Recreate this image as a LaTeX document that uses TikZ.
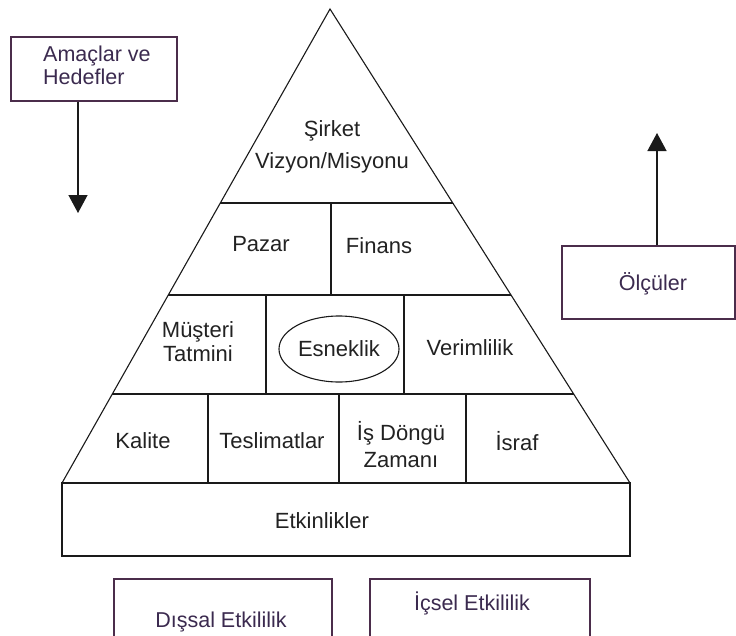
\documentclass[tikz,border=0pt]{standalone}
\usepackage{fontspec}
\setmainfont{Liberation Sans}
\usetikzlibrary{arrows.meta,calc,shapes.geometric}

\definecolor{inkline}{HTML}{1A1A1A}
\definecolor{boxline}{HTML}{4B2D4B}
\definecolor{boxtext}{HTML}{3B2A4F}
\definecolor{celltext}{HTML}{222222}

\tikzset{
  pyr/.style={draw=inkline, line width=1.1pt},
  basebar/.style={draw=inkline, line width=2.2pt},
  cell/.style={text=celltext, align=center, inner sep=0pt,
    font=\fontsize{22}{24}\selectfont},
  sidebox/.style={draw=boxline, line width=1.2pt, fill=white},
  sidetext/.style={text=boxtext, inner sep=0pt,
    font=\fontsize{21.5}{23}\selectfont},
  flow/.style={draw=inkline, line width=1.3pt,
    -{Triangle[length=18pt, width=19pt]}},
}

\begin{document}
\begin{tikzpicture}[x=1pt, y=-1pt]
\useasboundingbox (0,0) rectangle (736,635);
\clip (0,0) rectangle (736,635);
\fill[white] (0,0) rectangle (736,635);

% pyramid outline
\coordinate (apex) at (330,9);
\coordinate (bl) at (62,483);
\coordinate (br) at (630,483);
\draw[pyr] (bl) -- (apex) -- (br);

% tier lines, ends on the two slopes
\foreach \yy/\nm in {203/a, 295/b, 394/c}{
  \coordinate (l\nm) at ($(apex)!{(\yy-9)/474}!(bl)$);
  \coordinate (r\nm) at ($(apex)!{(\yy-9)/474}!(br)$);
  \draw[pyr] (l\nm) -- (r\nm);
}

% cell dividers
\draw[pyr] (331,203) -- (331,295);
\draw[pyr] (266,295) -- (266,394);
\draw[pyr] (404,295) -- (404,394);
\draw[pyr] (208,394) -- (208,483);
\draw[pyr] (339,394) -- (339,483);
\draw[pyr] (466,394) -- (466,483);

% activities bar
\draw[pyr] (62,483) rectangle (630,556);
\draw[basebar] (bl) -- (br);

% cell labels
\node[cell] (vision) at (332,147) {Şirket\\[8pt]Vizyon/Misyonu};
\node[cell] (market) at (261,244) {Pazar};
\node[cell] (finance) at (379,246) {Finans};
\node[cell] (customer) at (198,342) {Müşteri\\Tatmini};
\node[ellipse, draw=inkline, line width=1.1pt, minimum width=120pt,
      minimum height=66pt, inner sep=0pt, text=celltext,
      font=\fontsize{22}{24}\selectfont] (flex) at (339,349) {Esneklik};
\node[cell] (efficiency) at (470,348) {Verimlilik};
\node[cell] (quality) at (143,441) {Kalite};
\node[cell] (delivery) at (272,441) {Teslimatlar};
\node[cell] (cycle) at (401,445) {İş Döngü\\[3pt]Zamanı};
\node[cell] (waste) at (517,441) {İsraf};
\node[cell] (activities) at (322,521) {Etkinlikler};

% goals box with downward arrow
\node[sidebox, minimum width=166pt, minimum height=64pt] (goals) at (94,69) {};
\node[sidetext, align=left, anchor=north west] (goalstext) at (43,46) {Amaçlar ve\\Hedefler};
\coordinate (goalsend) at (78,213);
\draw[flow] (goals.south -| goalsend) -- (goalsend);

% measures box with upward arrow
\node[sidebox, minimum width=173pt, minimum height=73pt] (measures) at (648.5,282.5) {};
\node[sidetext] (measurestext) at (653,284) {Ölçüler};
\coordinate (measuresend) at (657,133);
\draw[flow] (measures.north -| measuresend) -- (measuresend);

% effectiveness boxes
\node[sidebox, minimum width=218pt, minimum height=80pt] (external) at (223,619) {};
\node[sidetext] (externaltext) at (221,622) {Dışsal Etkililik};
\node[sidebox, minimum width=220pt, minimum height=80pt] (internal) at (480,619) {};
\node[sidetext] (internaltext) at (472,603) {İçsel Etkililik};
\end{tikzpicture}
\end{document}
